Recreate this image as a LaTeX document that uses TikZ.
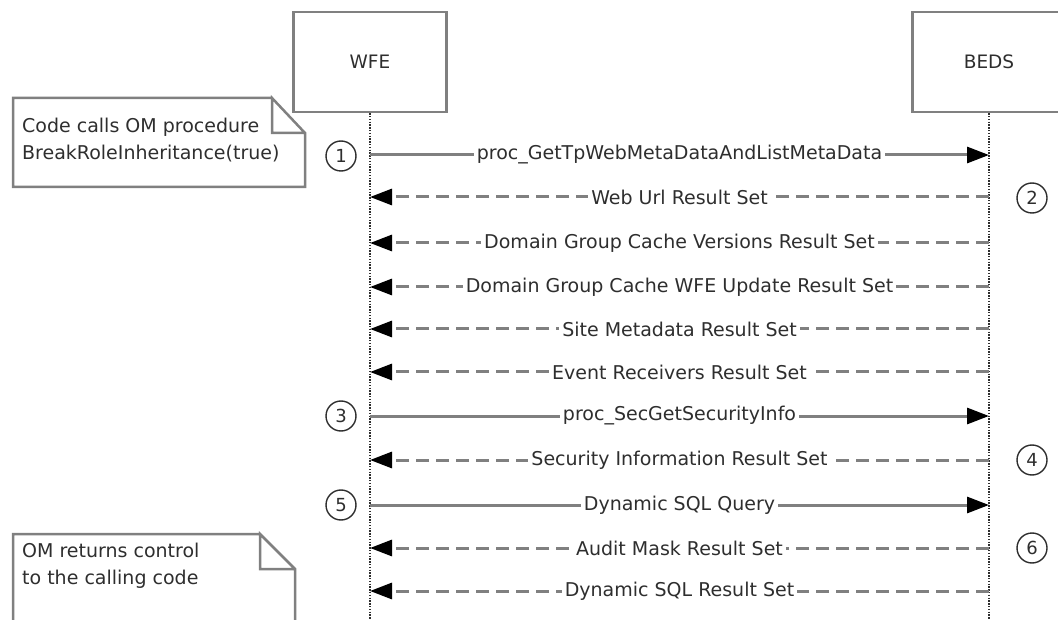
\documentclass[tikz,border=0pt]{standalone}
\usepackage{fontspec}
\setmainfont{DejaVu Sans}
\usetikzlibrary{arrows.meta}
\definecolor{linegray}{HTML}{808080}
\definecolor{textgray}{HTML}{2E2E2E}
\tikzset{
	lifebox/.style={draw=linegray, line width=2.5pt, minimum width=153pt, minimum height=100pt, text=textgray, font=\fontsize{18.5}{20}\selectfont},
	lifeline/.style={draw=textgray, line width=1.4pt, dash pattern=on 1.4pt off 1.4pt},
	callmsg/.style={draw=linegray, line width=3pt, -{Triangle[length=22pt,width=16pt,color=black]}},
	retmsg/.style={draw=linegray, line width=3pt, dash pattern=on 13pt off 7pt, -{Triangle[length=22pt,width=16pt,color=black]}},
	msglabel/.style={fill=white, inner sep=3pt, text=textgray, font=\fontsize{19}{20}\selectfont},
	stepnum/.style={circle, draw=textgray, line width=1.4pt, minimum size=30pt, inner sep=0pt, text=textgray, font=\fontsize{18}{20}\selectfont},
	notetext/.style={text=textgray, font=\fontsize{19}{27}\selectfont, align=left, anchor=north west, inner sep=0pt}
}
\begin{document}
\begin{tikzpicture}[x=1pt, y=-1pt]
	\useasboundingbox (0,0) rectangle (1058,620);
	\clip (0,0) rectangle (1058,620);
	% lifelines
	\node [lifebox] (wfe) at (370,62) {WFE};
	\node [lifebox] (beds) at (989,62) {BEDS};
	\coordinate (wfeend) at (370,620);
	\coordinate (bedsend) at (989,620);
	\draw [lifeline] (wfe.south) -- (wfeend);
	\draw [lifeline] (beds.south) -- (bedsend);
	% notes
	\draw [linegray, line width=2.5pt] (272,98) -- (13,98) -- (13,187) -- (305,187) -- (305,133) -- (272,98) -- (272,133) -- (305,133);
	\node [notetext] (note1) at (22,118) {Code calls OM procedure\\BreakRoleInheritance(true)};
	\draw [linegray, line width=2.5pt] (260,534) -- (13,534) -- (13,625) (295,625) -- (295,569) -- (260,534) -- (260,569) -- (295,569);
	\node [notetext] (note2) at (22,543) {OM returns control\\to the calling code};
	% message end points
	\foreach \n/\y in {1/155,2/197,3/243,4/287,5/329,6/372,7/416,8/460,9/505,10/548,11/591}{
		\coordinate (w\n) at (370,\y);
		\coordinate (b\n) at (989,\y);
	}
	% messages
	\draw [callmsg] (w1) -- node[msglabel] {proc\_GetTpWebMetaDataAndListMetaData} (b1);
	\draw [retmsg] (b2) -- node[msglabel] {Web Url Result Set} (w2);
	\draw [retmsg] (b3) -- node[msglabel] {Domain Group Cache Versions Result Set} (w3);
	\draw [retmsg] (b4) -- node[msglabel] {Domain Group Cache WFE Update Result Set} (w4);
	\draw [retmsg] (b5) -- node[msglabel] {Site Metadata Result Set} (w5);
	\draw [retmsg] (b6) -- node[msglabel] {Event Receivers Result Set} (w6);
	\draw [callmsg] (w7) -- node[msglabel] {proc\_SecGetSecurityInfo} (b7);
	\draw [retmsg] (b8) -- node[msglabel] {Security Information Result Set} (w8);
	\draw [callmsg] (w9) -- node[msglabel] {Dynamic SQL Query} (b9);
	\draw [retmsg] (b10) -- node[msglabel] {Audit Mask Result Set} (w10);
	\draw [retmsg] (b11) -- node[msglabel] {Dynamic SQL Result Set} (w11);
	% step numbers
	\node [stepnum] (s1) at (341,156) {1};
	\node [stepnum] (s2) at (1032,198) {2};
	\node [stepnum] (s3) at (341,416) {3};
	\node [stepnum] (s4) at (1032,460) {4};
	\node [stepnum] (s5) at (341,505) {5};
	\node [stepnum] (s6) at (1032,548) {6};
\end{tikzpicture}
\end{document}
